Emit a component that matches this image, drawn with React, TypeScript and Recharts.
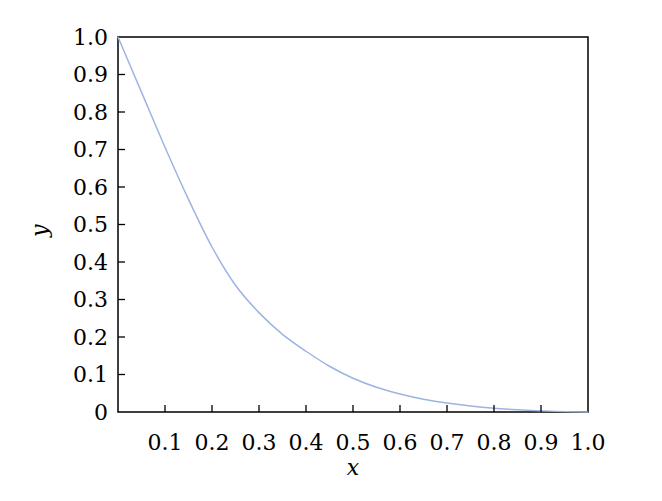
import { LineChart, Line, XAxis, YAxis, ReferenceArea, Label } from 'recharts'

const X_VALUES = [0, 0.05, 0.1, 0.15, 0.2, 0.25, 0.3, 0.35, 0.4, 0.45, 0.5, 0.55, 0.6, 0.65, 0.7, 0.75, 0.8, 0.85, 0.9, 0.95, 1.0]
const Y_VALUES = [1.0, 0.853, 0.706, 0.567, 0.44, 0.338, 0.265, 0.207, 0.162, 0.122, 0.09, 0.066, 0.048, 0.034, 0.024, 0.016, 0.01, 0.006, 0.003, 0.001, 0.0]
const X_TICKS = [0.1, 0.2, 0.3, 0.4, 0.5, 0.6, 0.7, 0.8, 0.9, 1.0]
const Y_TICKS = [0, 0.1, 0.2, 0.3, 0.4, 0.5, 0.6, 0.7, 0.8, 0.9, 1.0]

const data = X_VALUES.map((x, i) => ({ x, y: Y_VALUES[i] }))

const FONT = 'DejaVu Serif'
const FONT_SIZE = 22

function XTick({ x, y, payload }: any) {
  const v = payload.value
  return (
    <g>
      {v < 1 && <line x1={x} x2={x} y1={y} y2={y - 7} stroke="#000" strokeWidth={1.3} />}
      <text x={x} y={y + 30} textAnchor="middle" dominantBaseline="central" fontFamily={FONT} fontSize={FONT_SIZE} fill="#000">
        {v.toFixed(1)}
      </text>
    </g>
  )
}

function YTick({ x, y, payload }: any) {
  const v = payload.value
  const label = v === 0 ? '0' : v.toFixed(1)
  return (
    <g>
      {v > 0 && v < 1 && <line x1={x} x2={x + 7} y1={y} y2={y} stroke="#000" strokeWidth={1.3} />}
      <text x={x - 10} y={y} textAnchor="end" dominantBaseline="central" fontFamily={FONT} fontSize={FONT_SIZE} fill="#000">
        {label}
      </text>
    </g>
  )
}

export default function App() {
  return (
    <div style={{ position: 'absolute', left: 0, top: 0, background: '#fff' }}>
      <LineChart width={662} height={501} data={data} margin={{ top: 37, right: 74, bottom: 88, left: 117 }}>
        <XAxis
          dataKey="x"
          type="number"
          domain={[0, 1]}
          ticks={X_TICKS}
          height={1}
          tickSize={0}
          tickMargin={0}
          tickLine={false}
          axisLine={false}
          tick={<XTick />}
          interval={0}
        >
          <Label
            value="x"
            position="bottom"
            offset={46}
            style={{ fontFamily: FONT, fontSize: FONT_SIZE, fontStyle: 'italic', fill: '#000' }}
          />
        </XAxis>
        <YAxis
          type="number"
          domain={[0, 1]}
          ticks={Y_TICKS}
          width={1}
          tickSize={0}
          tickMargin={0}
          tickLine={false}
          axisLine={false}
          tick={<YTick />}
          interval={0}
        >
          <Label
            value="y"
            angle={-90}
            position="left"
            offset={78}
            style={{ fontFamily: FONT, fontSize: FONT_SIZE, fontStyle: 'italic', fill: '#000' }}
          />
        </YAxis>
        <ReferenceArea x1={0} x2={1} y1={0} y2={1} fill="none" stroke="#000" strokeWidth={1.5} fillOpacity={0} ifOverflow="visible" />
        <Line
          type="monotone"
          dataKey="y"
          stroke="#9db4e3"
          strokeWidth={1.5}
          dot={false}
          isAnimationActive={false}
        />
      </LineChart>
    </div>
  )
}
